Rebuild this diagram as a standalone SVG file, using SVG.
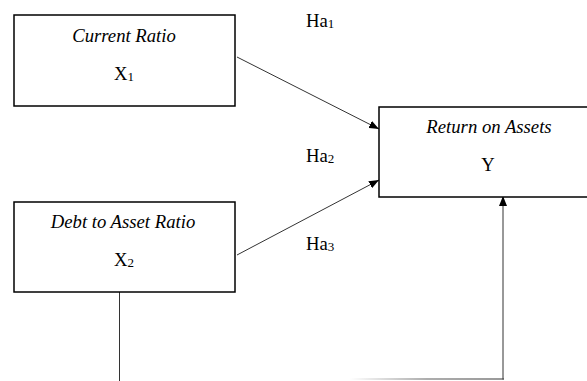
<svg xmlns="http://www.w3.org/2000/svg" width="587" height="381" viewBox="0 0 587 381">
<style>
.box{fill:#fff;stroke:#000;stroke-width:1.5}
.t{font-family:"Liberation Serif","Times New Roman","DejaVu Serif",serif;font-size:18.7px;fill:#000}
.i{font-style:italic}
.sub{font-size:13px}
.c{stroke:#333;stroke-width:1;fill:none}
</style>
<defs>
<marker id="ah" viewBox="0 0 10 8" refX="10" refY="4" markerWidth="10" markerHeight="8" markerUnits="userSpaceOnUse" orient="auto">
<path d="M0,0 L10,4 L0,8 z" fill="#000"/>
</marker>
<linearGradient id="fade" x1="350" y1="0" x2="504" y2="0" gradientUnits="userSpaceOnUse">
<stop offset="0" stop-color="#333" stop-opacity="0"/>
<stop offset="0.5" stop-color="#333" stop-opacity="0.8"/>
<stop offset="1" stop-color="#333"/>
</linearGradient>
</defs>
<g id="connectors">
<line class="c" x1="237" y1="57" x2="379" y2="129" marker-end="url(#ah)"/>
<line class="c" x1="237" y1="255" x2="379" y2="180" marker-end="url(#ah)"/>
<line class="c" x1="119.5" y1="292" x2="119.5" y2="381"/>
<line x1="350" y1="379" x2="504" y2="379" stroke="url(#fade)" stroke-width="1.2"/>
<line class="c" x1="503" y1="379.5" x2="503" y2="196" marker-end="url(#ah)"/>
</g>
<g id="node-x1">
<rect class="box" x="14" y="15" width="221" height="91"/>
<text class="t i" x="124" y="42" text-anchor="middle">Current Ratio</text>
<text class="t" x="124" y="80" text-anchor="middle">X<tspan class="sub" dy="1">1</tspan></text>
</g>
<g id="node-x2">
<rect class="box" x="14" y="202" width="221" height="90"/>
<text class="t i" x="123" y="228" text-anchor="middle">Debt to Asset Ratio</text>
<text class="t" x="124" y="266" text-anchor="middle">X<tspan class="sub" dy="1">2</tspan></text>
</g>
<g id="node-y">
<rect class="box" x="379" y="107" width="220" height="90"/>
<text class="t i" x="489" y="133" text-anchor="middle">Return on Assets</text>
<text class="t" x="488" y="171" text-anchor="middle">Y</text>
</g>
<g id="labels">
<text class="t" x="306" y="27">Ha<tspan class="sub" dy="1">1</tspan></text>
<text class="t" x="306" y="162">Ha<tspan class="sub" dy="1">2</tspan></text>
<text class="t" x="306" y="250">Ha<tspan class="sub" dy="1">3</tspan></text>
</g>
</svg>
